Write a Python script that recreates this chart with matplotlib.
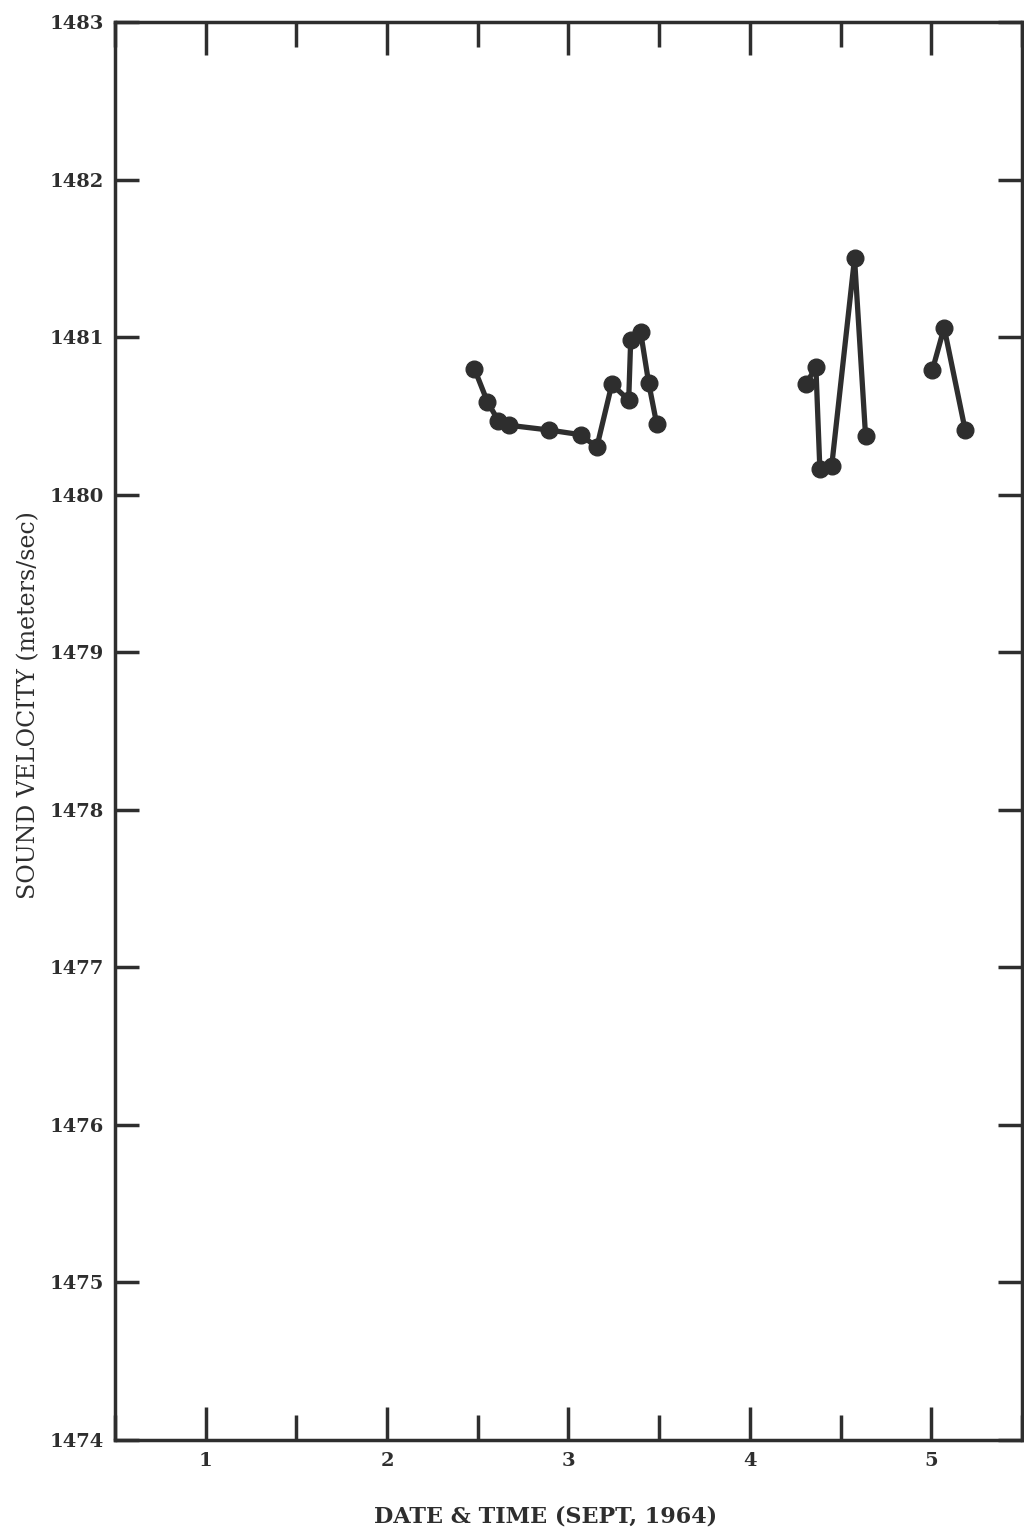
import numpy as np
import matplotlib.pyplot as plt
from matplotlib.ticker import MultipleLocator

# sound velocity readings, three separate runs (day of Sept 1964, m/s)
day_a = [2.481, 2.553, 2.613, 2.674, 2.893, 3.069, 3.156, 3.239, 3.332, 3.343, 3.398, 3.442, 3.486]
vel_a = [1480.80, 1480.59, 1480.47, 1480.44, 1480.41, 1480.38, 1480.30, 1480.70, 1480.60, 1480.98, 1481.03, 1480.71, 1480.45]

day_b = [4.309, 4.364, 4.386, 4.451, 4.577, 4.638]
vel_b = [1480.70, 1480.81, 1480.16, 1480.18, 1481.50, 1480.37]

day_c = [5.006, 5.071, 5.187]
vel_c = [1480.79, 1481.06, 1480.41]

x_ticks = [1, 2, 3, 4, 5]
y_ticks = list(range(1474, 1484))

ink = "#2e2e2e"
plt.rcParams['font.family'] = ['DejaVu Serif']

fig = plt.figure(figsize=(10.24, 15.35), dpi=100)
ax = fig.add_axes([0.1123, 0.0619, 0.8857, 0.9238])

for d, v in [(day_a, vel_a), (day_b, vel_b), (day_c, vel_c)]:
    ax.plot(d, v, color=ink, lw=3.8, marker='o', ms=12, mfc=ink, mec=ink)

ax.set(xlim=[0.5, 5.5], ylim=[1474, 1483])
ax.set_xticks(x_ticks)
ax.set_yticks(y_ticks)
ax.xaxis.set_minor_locator(MultipleLocator(0.5))

ax.tick_params(axis='both', which='both', direction='in', color=ink, width=2.5,
               top=True, right=True, labelsize=14, labelcolor=ink)
ax.tick_params(axis='x', which='major', length=24, pad=9)
ax.tick_params(axis='x', which='minor', length=18)
ax.tick_params(axis='y', which='major', length=17, pad=8)
for lab in ax.get_xticklabels() + ax.get_yticklabels():
    lab.set_fontweight('bold')

for sp in ax.spines.values():
    sp.set_linewidth(2.5)
    sp.set_color(ink)

ax.set_xlabel("DATE & TIME (SEPT, 1964)", fontsize=16, fontweight='bold', color=ink)
ax.set_ylabel("SOUND VELOCITY (meters/sec)", fontsize=17, color=ink)
ax.xaxis.set_label_coords(0.475, -0.046)
ax.yaxis.set_label_coords(-0.082, 0.518)

plt.savefig("out.png", dpi=100)
